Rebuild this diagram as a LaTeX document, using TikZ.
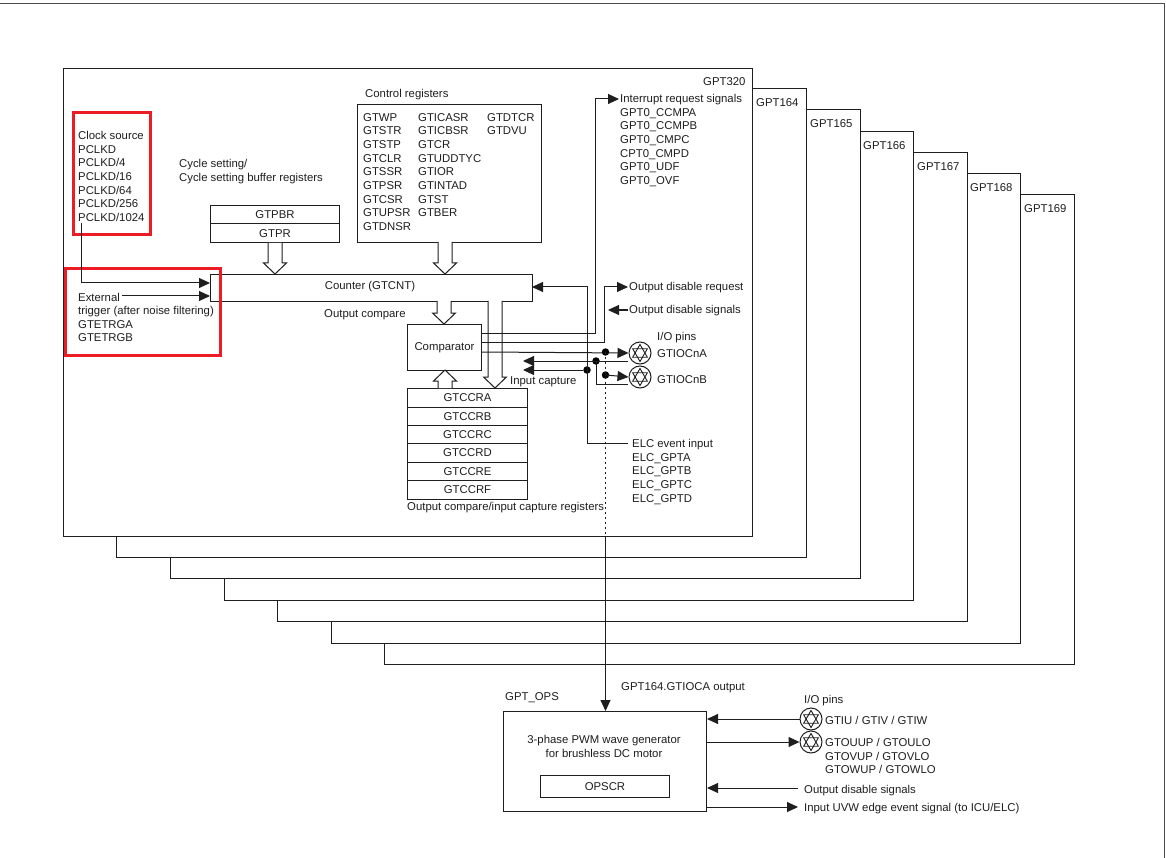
\documentclass[tikz,border=0pt]{standalone}
\usepackage{fontspec}
\setmainfont{Liberation Sans}
\usetikzlibrary{arrows.meta,calc}
\definecolor{ink}{HTML}{1E1E1E}
\definecolor{alert}{HTML}{ED1C24}
\tikzset{
  every node/.style={text=ink},
  unitbox/.style={draw=ink,fill=white,line width=1pt},
  regbox/.style={draw=ink,fill=white,line width=1pt,anchor=north west,inner sep=0pt,align=center,font=\fontsize{11.35}{13.65}\selectfont},
  lab/.style={anchor=west,inner sep=0pt,yshift=-1pt,align=left,font=\fontsize{11.35}{13.65}\selectfont},
  stack/.style={lab,anchor=north west,yshift=-1.5pt},
  labc/.style={inner sep=0pt,align=center,font=\fontsize{11.35}{13.65}\selectfont},
  wire/.style={draw=ink,line width=1pt},
  sig/.style={wire,-{Triangle[length=11pt,width=10pt]}},
  solder/.style={circle,fill=black,inner sep=0pt,minimum size=7.5pt},
  hollow/.style={draw=ink,fill=white,line width=1pt,line join=miter},
  alertbox/.style={draw=alert,line width=3pt,outer sep=0pt,inner sep=0pt,anchor=north west},
  pinsym/.style={circle,draw=ink,line width=1pt,fill=white,minimum size=22pt,inner sep=0pt,
    path picture={
      \draw[ink,line width=.9pt] (path picture bounding box.center) +(90:8.5) -- +(210:8.5) -- +(330:8.5) -- cycle;
      \draw[ink,line width=.9pt] (path picture bounding box.center) +(270:8.5) -- +(30:8.5) -- +(150:8.5) -- cycle;
    }},
}
% Hollow block arrow between two points on a vertical line; #3 is +1 downward, -1 upward
\newcommand\busarrow[3]{%
  \draw[hollow] ($(#1)+(-7,0)$) -- ($(#2)+(-7,{-11*#3})$) -- ($(#2)+(-11.5,{-11*#3})$) -- (#2)
    -- ($(#2)+(11.5,{-11*#3})$) -- ($(#2)+(7,{-11*#3})$) -- ($(#1)+(7,0)$);
}
\begin{document}
\begin{tikzpicture}[x=1pt,y=-1pt]
\useasboundingbox (0,0) rectangle (1166,858);
% page edge
\draw[ink!80,line width=1pt] (0,3.5) -- (1164,3.5) -- (1164,858);

% stacked timer channels, rearmost first
\foreach \l/\t/\r/\b/\n in {384/195/1074/664/gptI,331/174/1020/643/gptH,277/153/967/621/gptG,224/132/913/600/gptF,170/110/860/578/gptE,116/89/806/557/gptD}{
  \draw[unitbox] (\l,\t) rectangle (\r,\b);
}
\node[unitbox,anchor=north west,minimum width=689pt,minimum height=468pt,inner sep=0pt] (gptmain) at (63,68) {};

\node[lab] (n320) at (703,81) {GPT320};
\node[lab] (n164) at (756,102) {GPT164};
\node[lab] (n165) at (810,123) {GPT165};
\node[lab] (n166) at (863,144.5) {GPT166};
\node[lab] (n167) at (917,165.5) {GPT167};
\node[lab] (n168) at (970,187) {GPT168};
\node[lab] (n169) at (1024,208) {GPT169};

% clock and trigger inputs
\node[stack] (clk) at (78,128.5) {Clock source\\PCLKD\\PCLKD/4\\PCLKD/16\\PCLKD/64\\PCLKD/256\\PCLKD/1024};
\node[lab] (ext) at (78,296) {External};
\node[stack] (trg) at (78,303.5) {trigger (after noise filtering)\\GTETRGA\\GTETRGB};

% period registers
\node[stack] (cyc) at (179,156.5) {Cycle setting/\\Cycle setting buffer registers};
\node[regbox,minimum width=129pt,minimum height=18.5pt] (gtpbr) at (210,205) {GTPBR};
\node[regbox,minimum width=129pt,minimum height=18.5pt] (gtpr) at (210,223.5) {GTPR};

% control registers
\node[lab] (ctl) at (365,94) {Control registers};
\node[unitbox,anchor=north west,minimum width=184pt,minimum height=138pt,inner sep=0pt] (ctlbox) at (357,104) {};
\node[stack] (colA) at (363,110.5) {GTWP\\GTSTR\\GTSTP\\GTCLR\\GTSSR\\GTPSR\\GTCSR\\GTUPSR\\GTDNSR};
\node[stack] (colB) at (418,110.5) {GTICASR\\GTICBSR\\GTCR\\GTUDDTYC\\GTIOR\\GTINTAD\\GTST\\GTBER};
\node[stack] (colC) at (487,110.5) {GTDTCR\\GTDVU};

% counter, comparator and capture registers
\node[regbox,minimum width=322pt,minimum height=27pt] (cnt) at (210,274) {};
\node[labc] (cntl) at (370,287) {Counter (GTCNT)};
\node[lab] (ocl) at (324,314) {Output compare};
\node[regbox,minimum width=74pt,minimum height=46pt] (cmp) at (407,324) {Comparator};
\foreach \nm/\tx/\yy in {ra/GTCCRA/388,rb/GTCCRB/406.5,rc/GTCCRC/425,rd/GTCCRD/443,re/GTCCRE/461.5,rf/GTCCRF/480}{
  \node[regbox,minimum width=120pt,minimum height=18.5pt] (\nm) at (407,\yy) {\tx};
}
\node[lab] (ocrl) at (407,507) {Output compare/input capture registers};
\node[lab] (icl) at (510,381) {Input capture};

% hollow bus arrows
\busarrow{gtpr.south}{gtpr.south |- cnt.north}{1}
\path (445,242) coordinate (ctlout) (445,274) coordinate (ctlin);
\busarrow{ctlout}{ctlin}{1}
\path (444,301) coordinate (cmpfrom) (444,324) coordinate (cmpto);
\busarrow{cmpfrom}{cmpto}{1}
\path (445,388) coordinate (rafrom) (445,370) coordinate (rato);
\busarrow{rafrom}{rato}{-1}
\path (495,301) coordinate (capfrom) (495,388) coordinate (capto);
\busarrow{capfrom}{capto}{1}

% alert frames
\node[alertbox,minimum width=77.5pt,minimum height=122pt] (redA) at (73,112.5) {};
\node[alertbox,minimum width=155pt,minimum height=87pt] (redB) at (65.5,268.5) {};

% inputs into the counter
\coordinate (clkout) at (81,223);
\coordinate (cntclk) at (210,283);
\coordinate (cntext) at (210,296);
\coordinate (extout) at (122,296);
\draw[sig] (clkout) |- (cntclk);
\draw[sig] (extout) -- (cntext);

% I/O pins
\node[pinsym] (pinA) at (640,353) {};
\node[pinsym] (pinB) at (640,377) {};
\node[lab] (iol) at (657,337) {I/O pins};
\node[lab] (ioa) at (657,353) {GTIOCnA};
\node[lab] (iob) at (657,379) {GTIOCnB};

% interrupt and output-disable labels
\node[stack] (irq) at (620,91.5) {Interrupt request signals\\GPT0\_CCMPA\\GPT0\_CCMPB\\GPT0\_CMPC\\CPT0\_CMPD\\GPT0\_UDF\\GPT0\_OVF};
\node[lab] (odr) at (629,287) {Output disable request};
\node[lab] (ods) at (629,310) {Output disable signals};
\node[stack] (elc) at (632,436.5) {ELC event input\\ELC\_GPTA\\ELC\_GPTB\\ELC\_GPTC\\ELC\_GPTD};

% comparator outputs
\coordinate (c1) at (cmp.east |- 0,333);
\coordinate (c2) at (cmp.east |- 0,342);
\coordinate (c3) at (cmp.east |- 0,352);
\coordinate (irqin) at (619,99);
\coordinate (odrin) at (628,287);
\coordinate (odsout) at (628,310);
\coordinate (odsin) at (608,310);
\draw[sig] (c1) -| (595,99) -- (irqin);
\draw[sig] (c2) -| (604,287) -- (odrin);
\draw[sig] (c3) -- (pinA.west);
\draw[sig] (odsout) -- (odsin);

% capture and event paths
\node[solder] (jB) at (596,361) {};
\node[solder] (jC) at (587,370) {};
\node[solder] (jA) at (605.5,352) {};
\node[solder] (jD) at (605.5,375) {};
\coordinate (capA) at (523,361);
\coordinate (capB) at (523,370);
\coordinate (pinAin) at (628,361);
\coordinate (pinBin) at (628,384);
\coordinate (elcout) at (628,443);
\coordinate (cntev) at (532,287);
\draw[sig] (pinAin) -- (capA);
\draw[sig] (jC) -- (capB);
\draw[wire] (jB.center) |- (pinBin);
\draw[sig] (jD.center) -- (pinB.west);
\draw[sig] (elcout) -| (587,287) -- (cntev);

% waveform generator block
\node[unitbox,anchor=north west,minimum width=203pt,minimum height=100pt,inner sep=0pt] (ops) at (503,711) {};
\node[labc] (opst) at (604,746.5) {3-phase PWM wave generator\\for brushless DC motor};
\node[regbox,minimum width=129pt,minimum height=22pt] (opscr) at (540,775) {OPSCR};
\node[lab] (opsl) at (505,697) {GPT\_OPS};
\node[lab] (gout) at (621,687) {GPT164.GTIOCA output};

% channel output routed down to the generator
\coordinate (leave) at (605.5,536);
\draw[ink,line width=1pt,dash pattern=on 1.5pt off 3.5pt] (jA.center) -- (leave);
\draw[sig] (leave) -- (leave |- ops.north);

% generator pins and signals
\node[lab] (iol2) at (804,700) {I/O pins};
\node[pinsym] (pinU) at (811,719) {};
\node[pinsym] (pinO) at (811,742) {};
\node[lab] (uvw) at (825,719) {GTIU / GTIV / GTIW};
\node[stack] (gto) at (825,735.5) {GTOUUP / GTOULO\\GTOVUP / GTOVLO\\GTOWUP / GTOWLO};
\node[lab] (ods2) at (804,790) {Output disable signals};
\node[lab] (edge) at (804,808) {Input UVW edge event signal (to ICU/ELC)};
\draw[sig] (pinU.west) -- (ops.east |- pinU);
\draw[sig] (ops.east |- pinO) -- (pinO.west);
\coordinate (odsfree) at (798,788);
\coordinate (edgefree) at (798,807);
\draw[sig] (odsfree) -- (ops.east |- odsfree);
\draw[sig] (ops.east |- edgefree) -- (edgefree);
\end{tikzpicture}
\end{document}
